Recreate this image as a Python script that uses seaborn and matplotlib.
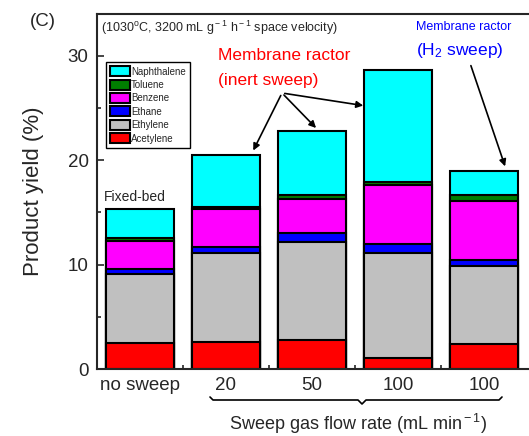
import numpy as np
import pandas as pd
import seaborn as sns
import matplotlib.pyplot as plt
from matplotlib.patches import Patch
from matplotlib.lines import Line2D
from matplotlib.ticker import MultipleLocator, FixedLocator

# bar categories (two "100" bars: inert sweep and H2 sweep)
keys = ["no sweep", "20", "50", "100 inert", "100 H2"]
tick_labels = ["no sweep", "20", "50", "100", "100"]

# segment heights (%), bottom to top
acetylene = [2.5, 2.6, 2.8, 1.1, 2.4]
ethylene = [6.6, 8.5, 9.4, 10.0, 7.5]
ethane = [0.5, 0.6, 0.8, 0.9, 0.5]
benzene = [2.7, 3.6, 3.3, 5.6, 5.7]
toluene = [0.2, 0.2, 0.4, 0.3, 0.6]
naphthalene = [2.8, 5.0, 6.1, 10.7, 2.3]

components = ["Acetylene", "Ethylene", "Ethane", "Benzene", "Toluene", "Naphthalene"]
colors = ["#FF0000", "#C0C0C0", "#0000FF", "#FF00FF", "#007F00", "#00FFFF"]

seg = pd.DataFrame({"Acetylene": acetylene, "Ethylene": ethylene, "Ethane": ethane,
                    "Benzene": benzene, "Toluene": toluene, "Naphthalene": naphthalene},
                   index=keys)
cum = seg.cumsum(axis=1)

sns.set_style("ticks")
plt.rcParams['font.family'] = ['Liberation Sans', 'DejaVu Sans']
plt.rcParams['mathtext.fontset'] = 'custom'
plt.rcParams['mathtext.rm'] = 'Liberation Sans'
plt.rcParams['mathtext.it'] = 'Liberation Sans'

fig = plt.figure(figsize=(5.29, 4.36), dpi=100)
W, H = 529, 436
ax = fig.add_axes([97 / W, 67 / H, 436 / W, 355 / H])

# overlay cumulative bars, tallest first -> stacked look
for comp, col in reversed(list(zip(components, colors))):
    d = pd.DataFrame({"cond": keys, "val": cum[comp].values})
    sns.barplot(data=d, x="cond", y="val", order=keys, color=col,
                saturation=1, edgecolor="black", linewidth=1.5, width=0.8, ax=ax)

ax.set_xlim(-0.5, 4.57)
ax.set_ylim(0, 34)
ax.set_xlabel("")
ax.set_ylabel("Product yield (%)", fontsize=16)
ax.yaxis.set_label_coords(-0.122, 0.5)
ax.set_xticks(range(len(keys)))
ax.set_xticklabels(tick_labels, fontsize=13.5)
ax.yaxis.set_major_locator(MultipleLocator(10))
ax.yaxis.set_minor_locator(MultipleLocator(5))
ax.xaxis.set_minor_locator(FixedLocator([0.5, 1.5, 2.5, 3.5]))
ax.tick_params(axis="both", which="both", direction="in", width=1.2)
ax.tick_params(axis="both", which="major", length=5, labelsize=13.5)
ax.tick_params(axis="both", which="minor", length=3)
ax.tick_params(axis="x", which="major", pad=6)
ax.tick_params(axis="y", which="major", pad=6)
for sp in ax.spines.values():
    sp.set_linewidth(1.5)
ax.spines["right"].set_visible(False)

handles = [Patch(facecolor=c, edgecolor="black", linewidth=1.5, label=n)
           for n, c in zip(components, colors)][::-1]
leg = ax.legend(handles=handles, loc="upper left", bbox_to_anchor=(106 / W, 1 - 62 / H),
                bbox_transform=fig.transFigure, fontsize=7, frameon=True, fancybox=False,
                framealpha=1, edgecolor="black", handlelength=2.0, handleheight=1.2,
                handletextpad=0.1, labelspacing=0.32, borderpad=0.45, borderaxespad=0)
leg.get_frame().set_linewidth(1.0)


def px(x, y):
    return (x / W, 1 - y / H)


fig.text(*px(30, 22), "(C)", fontsize=13.5, ha="left", va="center")
fig.text(*px(101, 28), r"(1030$^{\rm o}$C, 3200 mL g$^{\rm -1}$ h$^{\rm -1}$ space velocity)",
         fontsize=9, ha="left", va="center")
fig.text(*px(218, 56), "Membrane ractor", fontsize=12.5, color="red", ha="left", va="center")
fig.text(*px(218, 80), "(inert sweep)", fontsize=12.5, color="red", ha="left", va="center")
fig.text(*px(416, 27), "Membrane ractor", fontsize=9, color="blue", ha="left", va="center")
fig.text(*px(416, 50), r"(H$_{\rm 2}$ sweep)", fontsize=12.5, color="blue", ha="left", va="center")
fig.text(*px(104, 197), "Fixed-bed", fontsize=10, ha="left", va="center")

# arrows from the labels to the bars
for tx, ty in [(252, 153), (318, 130), (366, 106)]:
    ax.annotate("", xy=px(tx, ty), xycoords="figure fraction", xytext=px(282, 93),
                textcoords="figure fraction",
                arrowprops=dict(arrowstyle="-|>", color="black", lw=1.2, mutation_scale=10))
ax.annotate("", xy=px(506, 169), xycoords="figure fraction", xytext=px(470, 63),
            textcoords="figure fraction",
            arrowprops=dict(arrowstyle="-|>", color="black", lw=1.2, mutation_scale=10))

# brace under the sweep flow-rate ticks
bx0, bx1, bmid, by = 210, 502, 362, 400
pts = [(bx0, by - 3), (bx0 + 3, by), (bmid - 4, by), (bmid, by + 4),
       (bmid + 4, by), (bx1 - 3, by), (bx1, by - 3)]
fig.add_artist(Line2D([p[0] / W for p in pts], [1 - p[1] / H for p in pts],
                      color="black", lw=1.2, transform=fig.transFigure))
fig.text(*px(358, 424), r"Sweep gas flow rate (mL min$^{\rm -1}$)", fontsize=13,
         ha="center", va="center")

fig.savefig("out.png", dpi=100)
